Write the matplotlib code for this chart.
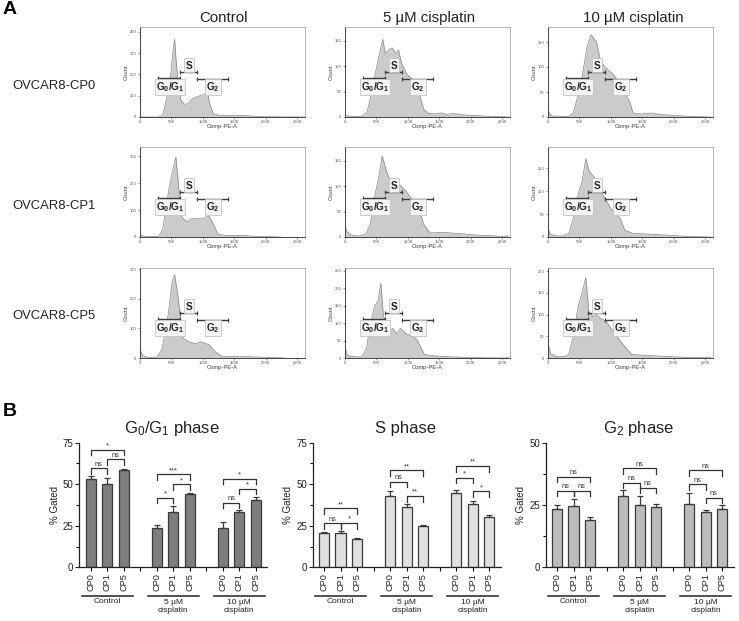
import numpy as np
import matplotlib
matplotlib.use("Agg")
import matplotlib.pyplot as plt

plt.rcParams['font.family'] = ['Liberation Sans', 'DejaVu Sans']
plt.rcParams['mathtext.fontset'] = 'custom'
plt.rcParams['mathtext.rm'] = 'Liberation Sans'
plt.rcParams['mathtext.bf'] = 'Liberation Sans:bold'
plt.rcParams['mathtext.it'] = 'Liberation Sans:italic'

W, H = 739, 621

col_titles = ['Control', '5 µM cisplatin', '10 µM cisplatin']
row_names = ['OVCAR8-CP0', 'OVCAR8-CP1', 'OVCAR8-CP5']

# flow histograms, x in thousands, y in counts
x_r1c1 = [0, 15, 30, 36, 41, 45, 49, 52, 55, 57, 60, 62, 65, 70, 76, 83, 95, 108, 110, 116, 127, 148, 170, 196, 262]
y_r1c1 = [1, 0, 0, 10, 70, 130, 210, 300, 364, 280, 180, 130, 80, 60, 62, 85, 100, 115, 70, 15, 8, 8, 6, 1, 0]
x_r1c2 = [0, 12, 27, 35, 40, 48, 53, 60, 64, 69, 75, 81, 85, 90, 98, 106, 117, 125, 133, 143, 154, 162, 172, 190, 217, 243, 259]
y_r1c2 = [3, 1, 1, 10, 35, 85, 115, 153, 125, 132, 136, 125, 132, 105, 85, 75, 50, 15, 7, 6, 8, 5, 7, 4, 2, 1, 0]
x_r1c3 = [0, 2, 6, 33, 40, 47, 54, 62, 68, 77, 83, 90, 104, 117, 130, 135, 148, 164, 180, 201, 227, 258]
y_r1c3 = [15, 8, 2, 1, 8, 40, 80, 140, 165, 150, 115, 100, 85, 60, 30, 8, 6, 8, 5, 3, 1, 0]
x_r2c1 = [0, 6, 20, 30, 36, 41, 46, 52, 57, 61, 65, 70, 76, 81, 89, 97, 110, 116, 124, 137, 159, 180, 223]
y_r2c1 = [8, 3, 1, 3, 30, 100, 180, 250, 298, 200, 80, 65, 57, 68, 70, 68, 78, 50, 10, 6, 6, 3, 0]
x_r2c2 = [0, 2, 9, 22, 33, 40, 48, 54, 59, 67, 72, 85, 97, 106, 117, 125, 135, 154, 180, 206, 238, 254, 259]
y_r2c2 = [30, 12, 4, 2, 6, 25, 85, 120, 160, 125, 110, 105, 90, 75, 60, 25, 8, 9, 7, 4, 2, 1, 4]
x_r2c3 = [0, 3, 9, 22, 33, 40, 48, 54, 60, 65, 77, 88, 101, 114, 122, 135, 164, 190, 222, 258]
y_r2c3 = [20, 8, 3, 2, 8, 40, 95, 120, 172, 145, 125, 90, 60, 42, 15, 8, 6, 4, 1, 0]
x_r3c1 = [0, 4, 13, 27, 35, 40, 45, 51, 55, 61, 67, 77, 88, 96, 110, 120, 131, 150, 176, 230]
y_r3c1 = [30, 8, 2, 3, 30, 90, 150, 260, 282, 200, 70, 55, 48, 55, 45, 20, 5, 5, 4, 0]
x_r3c2 = [0, 3, 10, 26, 34, 39, 47, 52, 57, 61, 71, 76, 82, 88, 97, 113, 118, 126, 142, 170, 207, 254, 259]
y_r3c2 = [35, 10, 4, 3, 25, 85, 150, 160, 215, 120, 80, 85, 70, 85, 70, 55, 40, 10, 6, 3, 1, 0, 3]
x_r3c3 = [0, 4, 12, 25, 33, 40, 48, 54, 60, 65, 72, 76, 85, 92, 104, 117, 133, 169, 196, 225, 258]
y_r3c3 = [35, 10, 4, 3, 8, 50, 120, 150, 185, 105, 95, 100, 90, 85, 60, 35, 8, 5, 3, 1, 1]

hist_x = [[x_r1c1, x_r1c2, x_r1c3], [x_r2c1, x_r2c2, x_r2c3], [x_r3c1, x_r3c2, x_r3c3]]
hist_y = [[y_r1c1, y_r1c2, y_r1c3], [y_r2c1, y_r2c2, y_r2c3], [y_r3c1, y_r3c2, y_r3c3]]
hist_top = [[422, 177, 180], [335, 177, 197], [305, 258, 207]]
hist_yticks = [[[0, 100, 200, 300, 400], [0, 50, 100, 150], [0, 50, 100, 150]],
               [[0, 100, 200, 300], [0, 50, 100, 150], [0, 50, 100, 150]],
               [[0, 100, 200, 300], [0, 50, 100, 150, 200, 250], [0, 50, 100, 150, 200]]]
hist_xticks = [0, 50, 100, 150, 200, 250]
hist_xlabels = ['0', '50K', '100K', '150K', '200K', '250K']
gate_g1 = (29, 64)
gate_s = (64, 91)
gate_g2 = (91, 140)

# bar panels
bar_names = ['CP0', 'CP1', 'CP5'] * 3
group_names = ['Control', '5 µM\ncisplatin', '10 µM\ncisplatin']

g1_vals = [53, 50, 58.5, 23.5, 33.5, 44, 23.5, 33.5, 40.5]
g1_errs = [1.7, 3.7, 0.5, 1.8, 3.3, 0.6, 4, 0.8, 1.6]
s_vals = [20.5, 20.5, 17, 43, 36, 25, 45, 38, 30.5]
s_errs = [0.7, 1.2, 0.4, 2.7, 2, 0.4, 1.5, 2, 1.2]
g2_vals = [23.5, 24.7, 19, 28.7, 25, 24.3, 25.5, 22.3, 23.2]
g2_errs = [1.5, 2.7, 1, 2.2, 3.5, 1, 4.5, 0.7, 2]

# bracket: first bar, last bar, height, label
g1_brackets = [(0, 2, 70.8, '*'), (1, 2, 64.9, 'ns'), (0, 1, 59.5, 'ns'),
               (3, 5, 56, '***'), (4, 5, 50, '*'), (3, 4, 42, '*'),
               (6, 8, 53.3, '*'), (7, 8, 47.3, '*'), (6, 7, 39, 'ns')]
s_brackets = [(0, 2, 35.5, '**'), (0, 1, 26.7, 'ns'), (1, 2, 26.7, '*'),
              (3, 5, 58.3, '**'), (3, 4, 51.5, 'ns'), (4, 5, 43, '**'),
              (6, 8, 61, '**'), (6, 7, 54, '*'), (7, 8, 45.7, '*')]
g2_brackets = [(0, 2, 36.4, 'ns'), (0, 1, 30.7, 'ns'), (1, 2, 30.7, 'ns'),
               (3, 5, 39.7, 'ns'), (3, 4, 34, 'ns'), (4, 5, 32, 'ns'),
               (6, 8, 39, 'ns'), (6, 7, 33.4, 'ns'), (7, 8, 28, 'ns')]

panel_titles = [r'$\mathrm{G_0/G_1}$ phase', 'S phase', r'$\mathrm{G_2}$ phase']
panel_vals = [g1_vals, s_vals, g2_vals]
panel_errs = [g1_errs, s_errs, g2_errs]
panel_brackets = [g1_brackets, s_brackets, g2_brackets]
panel_ymax = [75, 75, 50]
panel_yticks = [[0, 25, 50, 75], [0, 25, 50, 75], [0, 25, 50]]
panel_colors = ['#7e7e80', '#e0e0e0', '#bcbcbc']


fig = plt.figure(figsize=(W / 100, H / 100), dpi=100)


def px_axes(left, top, right, bottom):
    return fig.add_axes([left / W, 1 - bottom / H, (right - left) / W, (bottom - top) / H])


def fig_text(x, y, s, **kw):
    fig.text(x / W, 1 - y / H, s, **kw)


def gate(ax, span, from_top, height):
    ax.plot(span, [1 - from_top / height] * 2, transform=ax.get_xaxis_transform(),
            color='#3c3c3c', lw=1.0, marker='|', ms=3.5, mew=0.8, clip_on=False, zorder=4)


def gate_label(ax, dx, from_top, s, width, height):
    ax.text(dx / width, 1 - from_top / height, s, transform=ax.transAxes, ha='center', va='center',
            fontsize=7.2, color='#222222', zorder=5,
            bbox=dict(boxstyle='square,pad=0.12', fc='#f4f4f4', ec='#c4c4c4', lw=0.6))


# part A, histograms
col_lefts = [140, 345, 548]
row_tops = [27, 147, 268]
for r in range(3):
    for c in range(3):
        left = col_lefts[c]
        top = row_tops[r]
        ax = px_axes(left, top, left + 165, top + 90)
        ax.fill_between(hist_x[r][c], hist_y[r][c], 0, color='#cbcbcb', lw=0)
        ax.plot(hist_x[r][c], hist_y[r][c], color='#858585', lw=0.5)
        ax.set_xlim(0, 262)
        ax.set_ylim(0, hist_top[r][c])
        ax.set_xticks(hist_xticks)
        ax.set_xticklabels(hist_xlabels)
        ax.set_yticks(hist_yticks[r][c])
        ax.tick_params(labelsize=3, length=1.5, width=0.4, pad=1, colors='#555555')
        for name in ['top', 'right']:
            ax.spines[name].set_color('#9a9a9a')
            ax.spines[name].set_linewidth(0.5)
        for name in ['left', 'bottom']:
            ax.spines[name].set_color('#444444')
            ax.spines[name].set_linewidth(0.7)
        ax.set_xlabel('Comp-PE-A', fontsize=4.2, labelpad=-0.5, color='#444444')
        ax.set_ylabel('Count', fontsize=4.2, labelpad=1, color='#444444')
        gate(ax, gate_g1, 51, 90)
        gate(ax, gate_s, 45, 90)
        gate(ax, gate_g2, 52, 90)
        gate_label(ax, 30, 60, r'$\mathbf{G_0/G_1}$', 165, 90)
        gate_label(ax, 49, 38, r'$\mathbf{S}$', 165, 90)
        gate_label(ax, 73, 60, r'$\mathbf{G_2}$', 165, 90)

for cx, s in zip([224, 429, 633], col_titles):
    fig_text(cx, 18, s, ha='center', va='center', fontsize=10.8, color='#222222')
for cy, s in zip([86, 206, 316], row_names):
    fig_text(12, cy, s, ha='left', va='center', fontsize=9.4, color='#222222')

fig_text(3, 10, 'A', ha='left', va='center', fontsize=14, fontweight='bold')
fig_text(3, 412, 'B', ha='left', va='center', fontsize=14, fontweight='bold')

# part B, bars
positions = [p for p in range(11) if p not in (3, 7)]
axis_lefts = [79.3, 312.7, 545.7]
title_centers = [172, 405.7, 639]
ax_h = 567.3 - 442.7
for i in range(3):
    left = axis_lefts[i]
    ax = px_axes(left, 442.7, left + 188, 567.3)
    ymax = panel_ymax[i]
    ax.bar(positions, panel_vals[i], width=0.62, color=panel_colors[i],
           edgecolor='#3a3a3a', linewidth=0.9)
    ax.errorbar(positions, panel_vals[i], yerr=[np.zeros(9), panel_errs[i]], fmt='none',
                ecolor='#3a3a3a', elinewidth=0.9, capsize=2.3, capthick=0.9)
    ax.set_xlim(-0.69, 10.7)
    ax.set_ylim(0, ymax)
    ax.set_xticks(list(positions) + [3, 7])
    ax.set_xticklabels(bar_names + ['', ''], rotation=90, fontsize=6.6, color='#222222')
    ax.set_yticks(panel_yticks[i])
    ax.set_yticks(np.arange(12.5, ymax, 25), minor=True)
    ax.tick_params(axis='y', labelsize=7, length=3.2, width=0.8, pad=1, colors='#222222')
    ax.tick_params(axis='y', which='minor', length=2, width=0.8)
    ax.tick_params(axis='x', length=3, width=0.8, pad=1)
    for name in ['top', 'right']:
        ax.spines[name].set_visible(False)
    for name in ['left', 'bottom']:
        ax.spines[name].set_linewidth(0.9)
        ax.spines[name].set_color('#222222')
    ax.set_ylabel('% Gated', fontsize=7, labelpad=2, color='#222222')

    drop = 3.4 * ymax / 75
    for a, b, y, label in panel_brackets[i]:
        xa, xb = positions[a], positions[b]
        ax.plot([xa, xa, xb, xb], [y - drop, y, y, y - drop], color='#333333', lw=0.9, zorder=4)
        ax.text((xa + xb) / 2, y + 2.3 * ymax / 75, label, ha='center', va='center',
                fontsize=5.3, color='#333333')

    trans = ax.get_xaxis_transform()
    for g in range(3):
        start = positions[g * 3]
        ax.plot([start - 0.55, start + 2.55], [-28.4 / ax_h] * 2, transform=trans,
                color='#222222', lw=1.1, clip_on=False)
        ax.text(start + 1, -(39 if g else 34.7) / ax_h, group_names[g], transform=trans,
                ha='center', va='center', fontsize=6, color='#222222')
    fig_text(title_centers[i], 428, panel_titles[i], ha='center', va='center',
             fontsize=12, color='#222222')

fig.savefig('out.png', dpi=100)
